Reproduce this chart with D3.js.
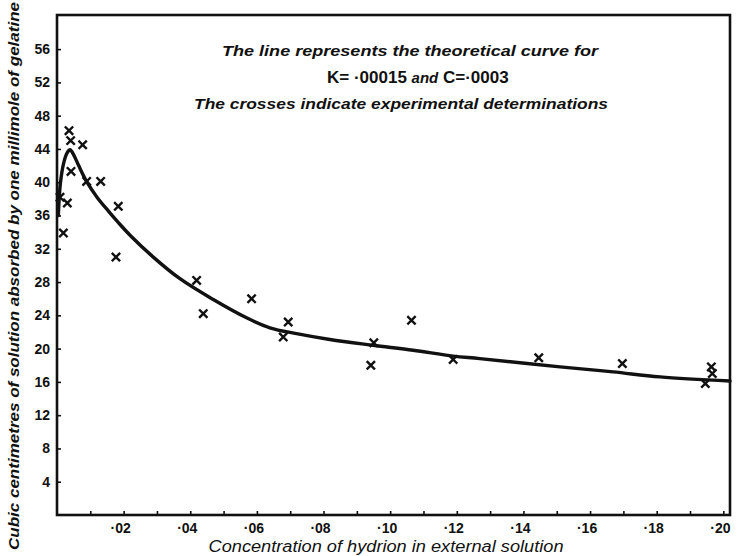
<!DOCTYPE html>
<html>
<head>
<meta charset="utf-8">
<script src="https://cdn.jsdelivr.net/npm/d3@7"></script>
<style>
  html, body { margin: 0; padding: 0; background: #fff; }
  svg { display: block; }
  text { fill: #111; }
</style>
</head>
<body>
<svg id="chart" width="741" height="556"></svg>
<script>
// Hydrion concentration in the external solution (x) for each experimental determination
const expConcentration = [
  0.0036, 0.0041, 0.0077, 0.0042, 0.0089, 0.0131, 0.0031, 0.0009, 0.0184, 0.0019,
  0.0177, 0.0419, 0.0439, 0.0584, 0.0694, 0.0679, 0.0951, 0.0942, 0.1064, 0.1189,
  0.1446, 0.1697, 0.1964, 0.1967, 0.1946
];
// Volume absorbed (c.c. per millimole of gelatine) for each determination
const expVolume = [
  46.2, 45.0, 44.5, 41.3, 40.1, 40.1, 37.5, 38.2, 37.1, 33.9,
  31.0, 28.2, 24.2, 26.0, 23.2, 21.4, 20.7, 18.0, 23.4, 18.7,
  18.9, 18.2, 17.8, 17.0, 15.8
];
// Theoretical curve for K = .00015 and C = .0003
const curveConcentration = [
  0.0004, 0.001, 0.002, 0.003, 0.0039, 0.005, 0.0065, 0.009, 0.012, 0.0155,
  0.0183, 0.022, 0.0289, 0.0369, 0.0469, 0.0569, 0.0639, 0.0719, 0.0819, 0.0949,
  0.1069, 0.1189, 0.1269, 0.151, 0.1669, 0.181, 0.202
];
const curveVolume = [
  36.0, 39.8, 42.3, 43.5, 43.9, 43.3, 42.0, 40.0, 38.2, 36.5,
  35.2, 33.6, 31.0, 28.4, 25.9, 23.7, 22.5, 21.8, 21.1, 20.4,
  19.8, 19.1, 18.8, 17.8, 17.2, 16.6, 16.1
];
// Axis ticks and their labels
const xMajorTicks = [0.02, 0.04, 0.06, 0.08, 0.10, 0.12, 0.14, 0.16, 0.18, 0.20];
const xMajorLabels = ["·02", "·04", "·06", "·08", "·10", "·12", "·14", "·16", "·18", "·20"];
const xMinorTicks = [0.01, 0.03, 0.05, 0.07, 0.09, 0.11, 0.13, 0.15, 0.17, 0.19];
const yTicks = [4, 8, 12, 16, 20, 24, 28, 32, 36, 40, 44, 48, 52, 56];

const svg = d3.select("#chart");
const plotLeft = 57, plotRight = 730, plotTop = 15, plotBottom = 515;

const x = d3.scaleLinear().domain([0, 0.202]).range([plotLeft, plotRight]);
const y = d3.scaleLinear().domain([0, 60.1]).range([plotBottom, plotTop]);

const fontBody = "'Liberation Sans', 'Arial', sans-serif";

// Frame
svg.append("rect")
  .attr("x", plotLeft).attr("y", plotTop)
  .attr("width", plotRight - plotLeft).attr("height", plotBottom - plotTop)
  .attr("fill", "none").attr("stroke", "#111").attr("stroke-width", 2.6);

// X axis (ticks point inward)
const xAxis = d3.axisTop(x)
  .tickValues(xMajorTicks.concat(xMinorTicks))
  .tickSize(4).tickFormat("");
const gx = svg.append("g").attr("transform", `translate(0,${plotBottom})`).call(xAxis);
gx.select(".domain").remove();
gx.selectAll(".tick line").attr("stroke", "#111").attr("stroke-width", 1.6);

svg.append("g").selectAll("text")
  .data(xMajorTicks)
  .join("text")
  .attr("x", d => x(d) - 3)
  .attr("y", 533)
  .attr("text-anchor", "middle")
  .attr("font-family", fontBody)
  .attr("font-weight", "bold")
  .attr("font-size", 14)
  .text((d, i) => xMajorLabels[i]);

// Y axis (ticks point inward)
const yAxis = d3.axisRight(y).tickValues(yTicks).tickSize(4).tickFormat("");
const gy = svg.append("g").attr("transform", `translate(${plotLeft},0)`).call(yAxis);
gy.select(".domain").remove();
gy.selectAll(".tick line").attr("stroke", "#111").attr("stroke-width", 1.6);

svg.append("g").selectAll("text")
  .data(yTicks)
  .join("text")
  .attr("x", 50)
  .attr("y", d => y(d) + 5)
  .attr("text-anchor", "end")
  .attr("font-family", fontBody)
  .attr("font-weight", "bold")
  .attr("font-size", 14)
  .text(d => d);

// Theoretical curve
const pts = curveConcentration.map((c, i) => [c, curveVolume[i]]);
svg.append("path")
  .datum(pts)
  .attr("fill", "none")
  .attr("stroke", "#111")
  .attr("stroke-width", 3.4)
  .attr("stroke-linejoin", "round")
  .attr("stroke-linecap", "round")
  .attr("d", d3.line().x(d => x(d[0])).y(d => y(d[1])).curve(d3.curveCatmullRom.alpha(0.5)));

// Experimental crosses
const s = 3.3;
const crosses = svg.append("g").attr("stroke", "#111").attr("stroke-width", 2.4).attr("stroke-linecap", "square");
expConcentration.forEach((c, i) => {
  const cx = x(c), cy = y(expVolume[i]);
  crosses.append("path")
    .attr("d", `M${cx - s},${cy - s}L${cx + s},${cy + s}M${cx - s},${cy + s}L${cx + s},${cy - s}`);
});

// Annotation
svg.append("text")
  .attr("x", 410).attr("y", 56)
  .attr("text-anchor", "middle")
  .attr("font-family", fontBody).attr("font-weight", "bold").attr("font-style", "italic")
  .attr("font-size", 15)
  .attr("textLength", 376).attr("lengthAdjust", "spacingAndGlyphs")
  .text("The line represents the theoretical curve for");

const eq = svg.append("text")
  .attr("x", 327).attr("y", 83)
  .attr("font-family", fontBody).attr("font-size", 17);
eq.append("tspan").attr("font-weight", "bold").text("K= ·00015 ");
eq.append("tspan").attr("font-weight", "bold").attr("font-style", "italic").attr("font-size", 15).text("and");
eq.append("tspan").attr("font-weight", "bold").text(" C=·0003");

svg.append("text")
  .attr("x", 401).attr("y", 109)
  .attr("text-anchor", "middle")
  .attr("font-family", fontBody).attr("font-weight", "bold").attr("font-style", "italic")
  .attr("font-size", 15)
  .attr("textLength", 414).attr("lengthAdjust", "spacingAndGlyphs")
  .text("The crosses indicate experimental determinations");

// Axis titles
svg.append("text")
  .attr("x", 386).attr("y", 552)
  .attr("text-anchor", "middle")
  .attr("font-family", fontBody).attr("font-style", "italic")
  .attr("font-size", 16)
  .attr("textLength", 355).attr("lengthAdjust", "spacingAndGlyphs")
  .text("Concentration of hydrion in external solution");

svg.append("text")
  .attr("transform", "translate(19,276) rotate(-90)")
  .attr("text-anchor", "middle")
  .attr("font-family", fontBody).attr("font-weight", "bold").attr("font-style", "italic")
  .attr("font-size", 15)
  .attr("textLength", 548).attr("lengthAdjust", "spacingAndGlyphs")
  .text("Cubic centimetres of solution absorbed by one millimole of gelatine");
</script>
</body>
</html>
